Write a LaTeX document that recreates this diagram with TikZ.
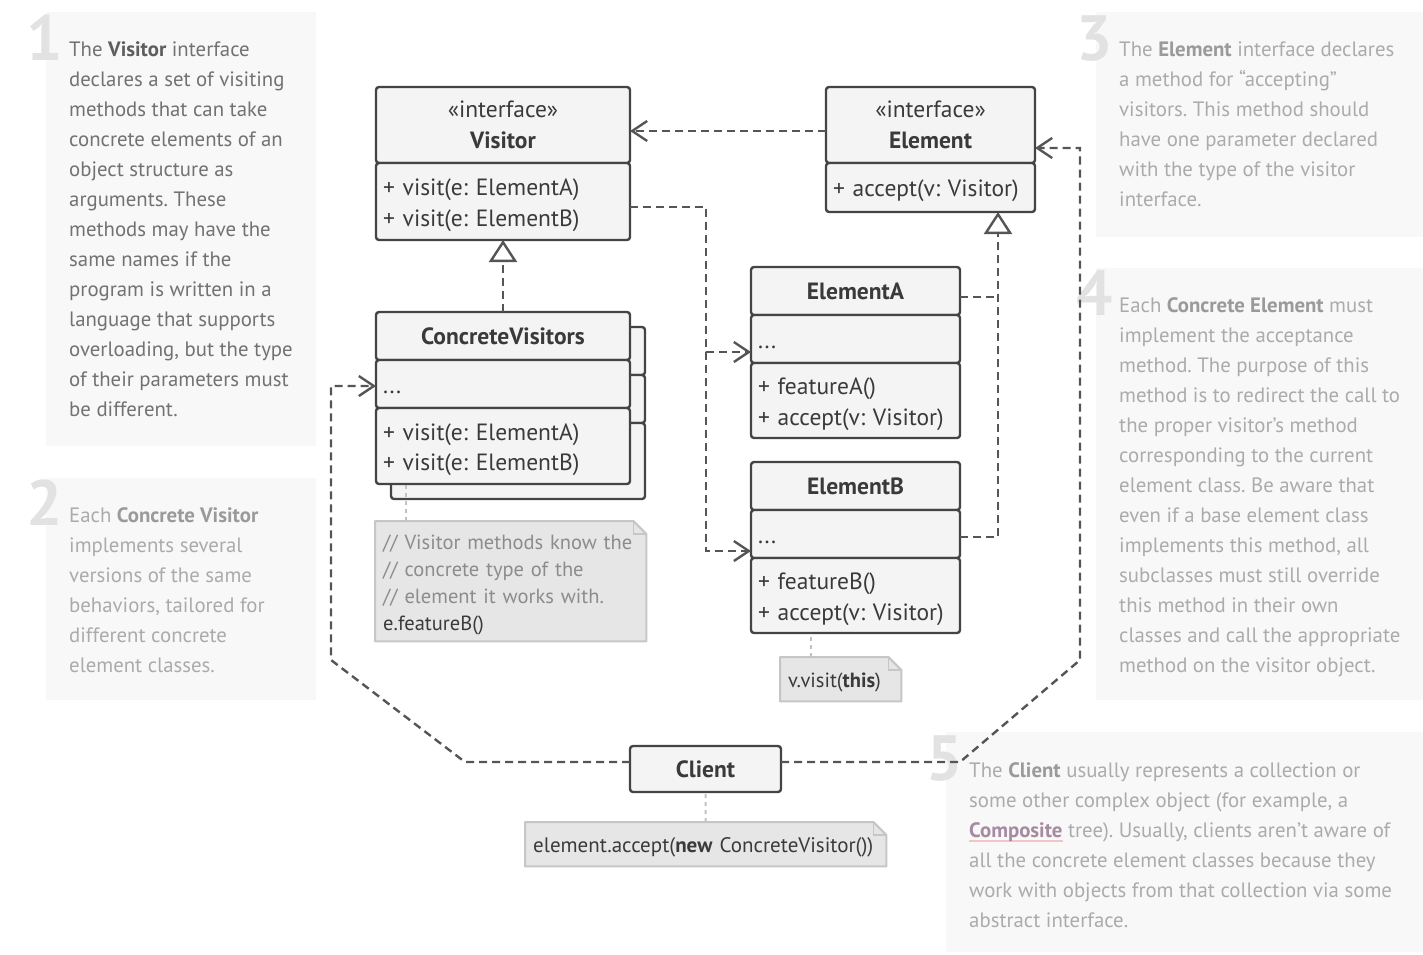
\documentclass[tikz,border=0pt]{standalone}
\usepackage{fontspec}
\setmainfont{PT Sans}
\usetikzlibrary{arrows.meta,positioning,calc}
\frenchspacing

\definecolor{umlline}{HTML}{444444}
\definecolor{umlfill}{HTML}{F4F4F4}
\definecolor{umltext}{HTML}{3A3A3A}
\definecolor{notefill}{HTML}{E6E6E6}
\definecolor{noteline}{HTML}{C6C6C6}
\definecolor{notecomment}{HTML}{8C8C8C}
\definecolor{notelink}{HTML}{C2C2C2}
\definecolor{panelfill}{HTML}{F8F8F8}
\definecolor{paneltext}{HTML}{ABABAB}
\definecolor{panelbold}{HTML}{9A9A9A}
\definecolor{activetext}{HTML}{727272}
\definecolor{activebold}{HTML}{5E5E5E}
\definecolor{numcol}{HTML}{E2E2E2}
\definecolor{conn}{HTML}{555555}
\definecolor{linkcol}{HTML}{A68BA0}
\definecolor{linkline}{HTML}{F2C6C6}

% folded corner of a note node
\newcommand{\notefold}[1]{%
  \fill[white] ([xshift=-13pt]#1.north east) -- (#1.north east) -- ([yshift=-13pt]#1.north east) -- cycle;
  \draw[noteline, line width=2pt, line join=round]
    (#1.south west) -- (#1.north west) -- ([xshift=-13pt]#1.north east)
    -- ([yshift=-13pt]#1.north east) -- (#1.south east) -- cycle;
  \draw[noteline, line width=1.6pt]
    ([xshift=-13pt]#1.north east) -- ([xshift=-13pt,yshift=-13pt]#1.north east)
    -- ([yshift=-13pt]#1.north east);}
\newcommand{\bfp}[1]{\textbf{\color{panelbold}#1}}
\newcommand{\bfa}[1]{\textbf{\color{activebold}#1}}
\newcommand{\linkword}[1]{\setbox0\hbox{\textbf{#1}}%
  \rlap{\color{linkline}\rule[-5pt]{\wd0}{1.6pt}}{\color{linkcol}\box0}}
\newcommand{\etc}{\vphantom{Ap}...}
\newcommand{\tp}{\rule{0pt}{24pt}}
\newcommand{\ntp}{\rule{0pt}{21.5pt}}

\begin{document}
\begin{tikzpicture}[
    x=1pt, y=-1pt,
    cls/.style={draw=umlline, fill=umlfill, line width=2.4pt, rounded corners=3pt,
                inner sep=0pt, outer sep=0pt, text=umltext,
                font=\fontsize{23.5}{30.5}\selectfont},
    head/.style={cls, align=center, minimum width=#1},
    body/.style={cls, align=left, inner xsep=7pt, text width=#1},
    note/.style={fill=notefill, inner ysep=0pt, inner xsep=8pt, align=left,
                 anchor=north west, text=umltext, font=\fontsize{20.5}{27}\selectfont},
    ptext/.style={anchor=north west, inner sep=0pt, align=left, text=paneltext,
                  font=\fontsize{20.8}{30}\selectfont},
    num/.style={anchor=base east, inner sep=0pt, text=numcol,
                font=\fontsize{64}{64}\selectfont\bfseries},
    dep/.style={draw=conn, line width=2.4pt, dash pattern=on 8pt off 5pt,
                -{Straight Barb[length=15pt, width=20pt]}},
    real/.style={draw=conn, line width=2.4pt, dash pattern=on 8pt off 5pt,
                 -{Triangle[open, length=22pt, width=28pt, fill=white]}},
    plain/.style={draw=conn, line width=2.4pt, dash pattern=on 8pt off 5pt},
    link/.style={draw=notelink, line width=2pt, dash pattern=on 4pt off 4pt}
  ]
  \useasboundingbox (0,0) rectangle (1423,954);

  % side panels
  \fill[panelfill] (46,12) rectangle (316,446);
  \fill[panelfill] (46,478) rectangle (316,700);
  \fill[panelfill] (1096,12) rectangle (1423,237);
  \fill[panelfill] (1096,268) rectangle (1423,700);
  \fill[panelfill] (946,732) rectangle (1423,952);

  \node[num] (n1) at (63,60) {1};
  \node[num] (n2) at (63,525) {2};
  \node[num] (n3) at (1113,60) {3};
  \node[num] (n4) at (1113,315) {4};
  \node[num] (n5) at (963,780) {5};

  \node[ptext, text=activetext] (p1) at (69,42) {The \bfa{Visitor} interface\\
    declares a set of visiting\\methods that can take\\concrete elements of an\\
    object structure as\\arguments. These\\methods may have the\\same names if the\\
    program is written in a\\language that supports\\overloading, but the type\\
    of their parameters must\\be different.};
  \node[ptext] (p2) at (69,507) {Each \bfp{Concrete Visitor}\\implements several\\
    versions of the same\\behaviors, tailored for\\different concrete\\element classes.};
  \node[ptext] (p3) at (1119,42) {The \bfp{Element} interface declares\\
    a method for “accepting”\\visitors. This method should\\have one parameter declared\\
    with the type of the visitor\\interface.};
  \node[ptext] (p4) at (1119,297) {Each \bfp{Concrete Element} must\\
    implement the acceptance\\method. The purpose of this\\method is to redirect the call to\\
    the proper visitor’s method\\corresponding to the current\\element class. Be aware that\\
    even if a base element class\\implements this method, all\\subclasses must still override\\
    this method in their own\\classes and call the appropriate\\method on the visitor object.};
  \node[ptext] (p5) at (969,762) {The \bfp{Client} usually represents a collection or\\
    some other complex object (for example, a\\\linkword{Composite} tree). Usually, clients aren’t aware of\\
    all the concrete element classes because they\\work with objects from that collection via some\\
    abstract interface.};

  % interfaces
  \node[head=254pt, minimum height=76pt, anchor=north west] (visitor) at (376,87)
    {«interface»\\\textbf{Visitor}};
  \node[body=240pt, minimum height=77pt, below=0pt of visitor] (visitorops)
    {\tp+ visit(e: ElementA)\\+ visit(e: ElementB)};
  \node[head=209pt, minimum height=76pt, anchor=north west] (element) at (826,87)
    {«interface»\\\textbf{Element}};
  \node[body=195pt, minimum height=49pt, below=0pt of element] (elementops)
    {\tp+ accept(v: Visitor)};

  % concrete visitors, drawn as a stack
  \node[head=254pt, minimum height=48pt, anchor=north west] (cvbackhead) at (391,327) {};
  \node[head=254pt, minimum height=48pt, below=0pt of cvbackhead] (cvbackdots) {};
  \node[head=254pt, minimum height=76pt, below=0pt of cvbackdots] (cvbackops) {};
  \node[head=254pt, minimum height=48pt, anchor=north west] (cvhead) at (376,312)
    {\textbf{ConcreteVisitors}};
  \node[body=240pt, minimum height=48pt, below=0pt of cvhead] (cvdots) {\tp\etc};
  \node[body=240pt, minimum height=76pt, below=0pt of cvdots] (cvops)
    {\tp+ visit(e: ElementA)\\+ visit(e: ElementB)};

  % concrete elements
  \node[head=209pt, minimum height=48pt, anchor=north west] (elAhead) at (751,267)
    {\textbf{ElementA}};
  \node[body=195pt, minimum height=48pt, below=0pt of elAhead] (elAdots) {\tp\etc};
  \node[body=195pt, minimum height=75pt, below=0pt of elAdots] (elAops)
    {\tp+ featureA()\\+ accept(v: Visitor)};
  \node[head=209pt, minimum height=48pt, anchor=north west] (elBhead) at (751,462)
    {\textbf{ElementB}};
  \node[body=195pt, minimum height=48pt, below=0pt of elBhead] (elBdots) {\tp\etc};
  \node[body=195pt, minimum height=75pt, below=0pt of elBdots] (elBops)
    {\tp+ featureB()\\+ accept(v: Visitor)};

  \node[head=151pt, minimum height=46pt, anchor=north west] (client) at (630,746)
    {\textbf{Client}};

  % notes
  \node[note, text width=255pt, minimum height=120pt] (cvnote) at (375,521)
    {\ntp\textcolor{notecomment}{// Visitor methods know the}\\
     \textcolor{notecomment}{// concrete type of the}\\
     \textcolor{notecomment}{// element it works with.}\\e.featureB()};
  \notefold{cvnote}
  \node[note, text width=105pt, minimum height=44pt] (elBnote) at (780,657)
    {\ntp v.visit(\textbf{this})};
  \notefold{elBnote}
  \node[note, text width=345pt, minimum height=44pt, font=\fontsize{21}{27}\selectfont] (clnote) at (525,822)
    {\ntp element.accept(\textbf{new} ConcreteVisitor())};
  \notefold{clnote}

  \draw[link] ([xshift=31pt]cvnote.north west) -- ([xshift=31pt]cvnote.north west |- cvops.south);
  \draw[link] ([xshift=31pt]elBnote.north west) -- ([xshift=31pt]elBnote.north west |- elBops.south);
  \draw[link] (clnote.north) -- (client.south);

  % relations
  \draw[dep] ([yshift=-6pt]element.west) -- ([yshift=-6pt]element.west -| visitor.east);
  \draw[real] (cvhead.north) -- (visitorops.south);
  \coordinate (toA) at ([yshift=-13pt]elAdots.west);
  \coordinate (toB) at ([yshift=-17pt]elBdots.west);
  \draw[dep] ([yshift=-5.5pt]visitorops.east) -- ++(76,0) |- (toA);
  \draw[dep] ([yshift=-5.5pt]visitorops.east) -- ++(76,0) |- (toB);
  \coordinate (ebus) at ([xshift=67.5pt]elementops.south);
  \draw[plain] ([yshift=-6pt]elAhead.east) -- ([yshift=-6pt]elAhead.east -| ebus);
  \draw[real] ([yshift=-3pt]elBdots.east) -| (ebus);
  \draw[dep] ([yshift=7pt]client.west) -- ++(-165,0) -- ++(-134,-102) |- ([yshift=-2pt]cvdots.west);
  \draw[dep] ([yshift=7pt]client.east) -- ++(179,0) -- ++(120,-102) |- ([yshift=-23pt]element.east);

\end{tikzpicture}
\end{document}
